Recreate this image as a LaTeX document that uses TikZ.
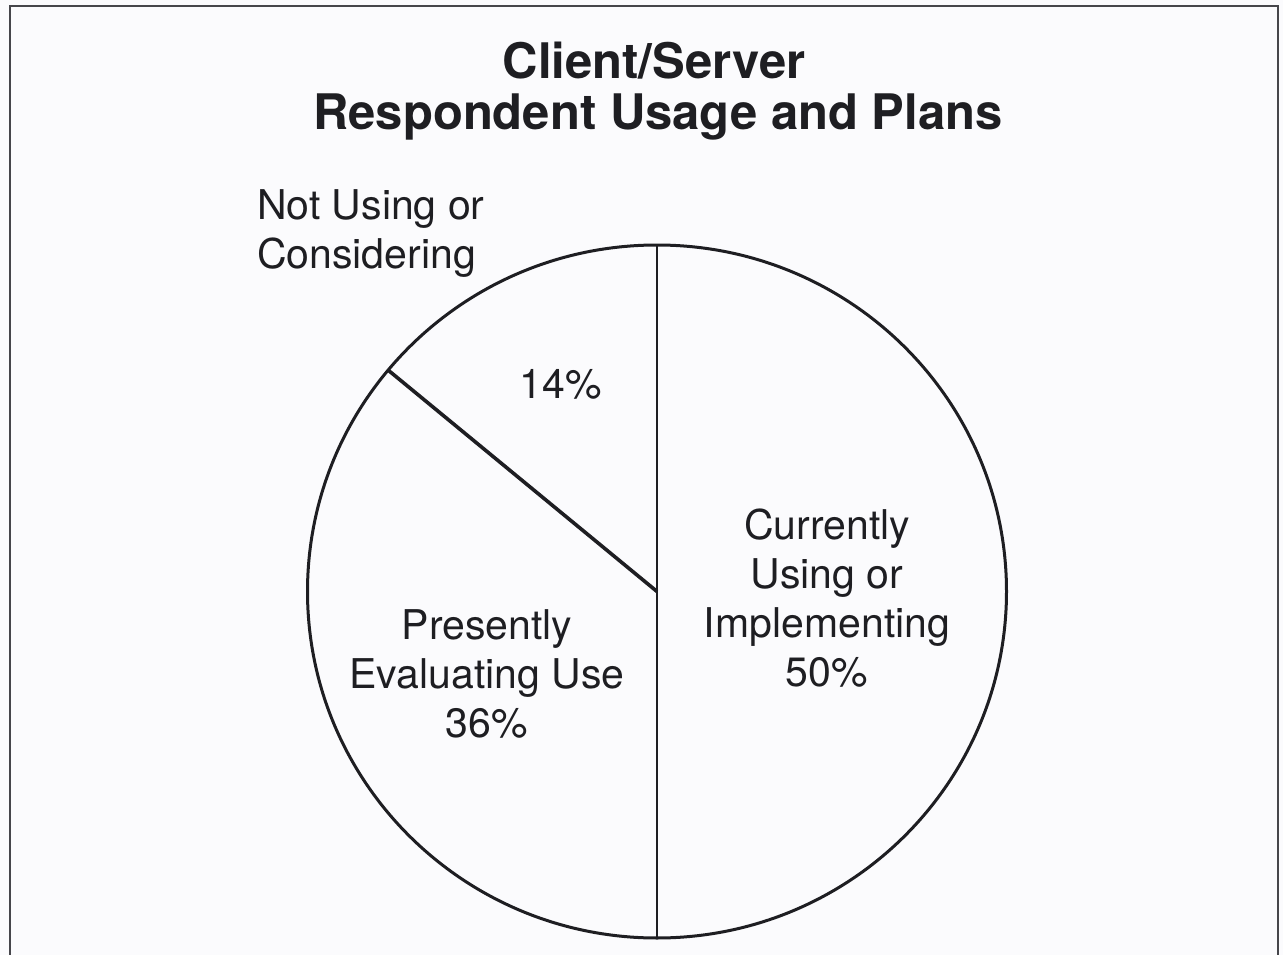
\documentclass[tikz,border=0pt]{standalone}
\usepackage{fontspec}
\setmainfont{TeX Gyre Heros}
\definecolor{paper}{RGB}{251,251,253}
\definecolor{ink}{RGB}{30,30,34}
\definecolor{rule}{RGB}{70,70,75}
\begin{document}
\begin{tikzpicture}[x=1pt,y=-1pt,
  frameline/.style={draw=rule,line width=2pt},
  pieline/.style={draw=ink,line width=3pt},
  slice/.style={draw=ink,line width=2.6pt},
  titletext/.style={font=\bfseries\fontsize{49}{51}\selectfont,text=ink,align=center,inner sep=0pt},
  label/.style={font=\fontsize{41}{49}\selectfont,text=ink,inner sep=0pt}]
  % page
  \fill[paper] (0,0) rectangle (1283,955);
  \useasboundingbox (0,0) rectangle (1283,955);
  \draw[frameline] (10,955) -- (10,6) -- (1278,6) -- (1278,955);

  % title
  \node[titletext,anchor=base] (t1) at (654,79) {Client/Server};
  \node[titletext,anchor=base] (t2) at (658,130) {Respondent Usage and Plans};

  % pie
  \coordinate (c) at (657,591.5);
  \coordinate (top) at (657,245);
  \coordinate (bot) at (657,938);
  \coordinate (div) at (388,370);
  \draw[pieline] (c) ellipse [x radius=349.5pt, y radius=346.5pt];
  \draw[slice] (top) -- (bot);
  \draw[slice,line width=3.6pt] (c) -- (div);

  % slice labels (anchored on the baseline of the last line)
  \node[label,anchor=base west,align=left] (nu) at (257,268) {Not Using or\\Considering};
  \node[label,anchor=base] (p14) at (561,398) {14\%};
  \node[label,anchor=base,align=center] (cu) at (827,686) {Currently\\Using or\\Implementing\\50\%};
  \node[label,anchor=base,align=center] (pe) at (487,737) {Presently\\Evaluating Use\\36\%};
\end{tikzpicture}
\end{document}
